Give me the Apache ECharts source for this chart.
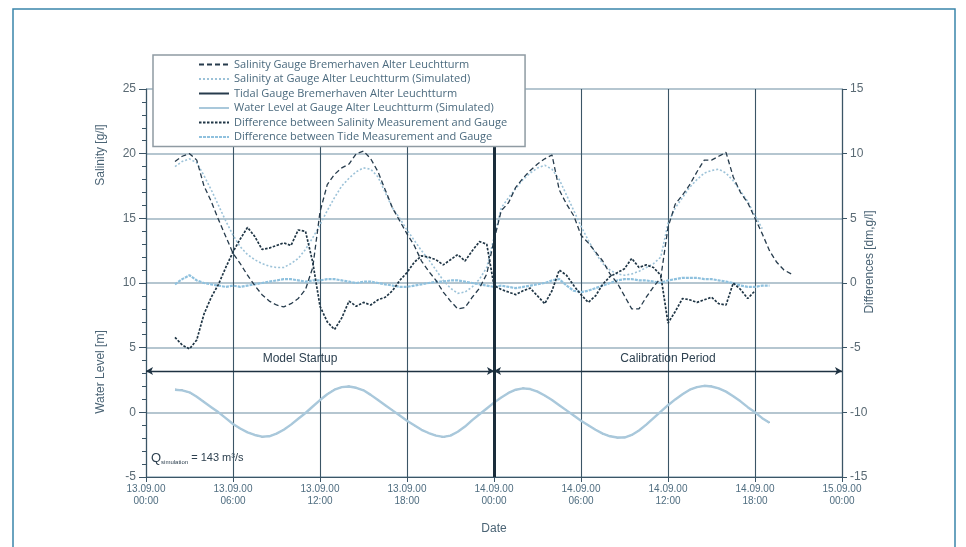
<!DOCTYPE html>
<html>
<head>
<meta charset="utf-8">
<script src="https://cdn.jsdelivr.net/npm/echarts@6/dist/echarts.min.js"></script>
<style>
  html, body { margin: 0; padding: 0; background: #ffffff; }
  #chart { width: 966px; height: 547px; }
</style>
</head>
<body>
<div id="chart"></div>
<script>
// Time base: hours after 13.09.00 00:00
const hours = [
  2, 2.5, 3, 3.5, 4, 4.5, 5, 5.5, 6, 6.5,
  7, 7.5, 8, 8.5, 9, 9.5, 10, 10.5, 11, 11.5,
  12, 12.5, 13, 13.5, 14, 14.5, 15, 15.5, 16, 16.5,
  17, 17.5, 18, 18.5, 19, 19.5, 20, 20.5, 21, 21.5,
  22, 22.5, 23, 23.5, 24, 24.5, 25, 25.5, 26, 26.5,
  27, 27.5, 28, 28.5, 29, 29.5, 30, 30.5, 31, 31.5,
  32, 32.5, 33, 33.5, 34, 34.5, 35, 35.5, 36, 36.5,
  37, 37.5, 38, 38.5, 39, 39.5, 40, 40.5, 41, 41.5,
  42, 42.5, 43, 43.5, 44, 44.5
];

// Salinity [g/l], measured at the Bremerhaven Alter Leuchtturm gauge
const salinityMeasured = [
  19.4, 19.8, 20.0, 19.5, 17.5, 16.3, 14.9, 13.6, 12.3, 11.5,
  10.6, 9.8, 9.1, 8.6, 8.3, 8.15, 8.4, 8.8, 9.5, 11.2,
  15.5, 17.6, 18.4, 18.9, 19.2, 20.0, 20.2, 19.6, 18.6, 17.2,
  15.8, 14.8, 13.8, 12.9, 11.7, 10.9, 10.2, 9.3, 8.6, 8.0,
  8.1, 8.9, 9.6, 10.7, 13.3, 15.6, 16.2, 17.4, 18.1, 18.7,
  19.2, 19.6, 19.9, 17.2, 16.1, 15.2, 13.7, 13.1, 12.4, 11.7,
  10.7, 10.0, 9.0, 8.0, 8.0, 8.9, 9.7, 10.4, 14.3, 16.1,
  16.8, 17.6, 18.6, 19.5, 19.5, 19.8, 20.1, 18.2, 17.0, 16.2,
  15.0, 13.8, 12.5, 11.6, 11.0, 10.7
];

// Salinity [g/l], simulated at the gauge
const salinitySimulated = [
  19.0, 19.4, 19.6, 19.3, 18.3, 17.2, 16.0, 14.8, 13.7, 12.8,
  12.2, 11.8, 11.5, 11.3, 11.2, 11.2, 11.5, 11.9, 12.6, 13.5,
  14.5, 15.6, 16.6, 17.5, 18.1, 18.6, 18.9, 18.8, 18.2, 17.0,
  15.8, 15.0, 14.1, 13.3, 12.5, 11.8, 11.0, 10.2, 9.6, 9.2,
  9.3, 9.7, 10.3, 11.2, 13.5, 15.8, 16.6, 17.3, 18.0, 18.5,
  18.9, 19.1, 18.8, 18.0, 16.8, 15.6, 14.4, 13.3, 12.3, 11.5,
  11.0, 10.7, 10.6, 10.7, 10.9, 11.2, 11.5, 12.0, 14.6, 15.8,
  16.6, 17.4, 18.0, 18.5, 18.7, 18.8, 18.5, 17.9, 17.1, 16.3,
  15.2, 14.2, null, null, null, null
];

// Water level [m], measured at the tide gauge
const tideMeasured = [
  1.78, 1.72, 1.52, 1.22, 0.82, 0.38, 0.02, -0.44, -0.92, -1.27,
  -1.53, -1.76, -1.90, -1.84, -1.66, -1.33, -0.97, -0.48, -0.07, 0.47,
  0.93, 1.42, 1.77, 1.94, 2.02, 1.88, 1.71, 1.33, 0.97, 0.53,
  0.17, -0.27, -0.63, -1.02, -1.33, -1.62, -1.79, -1.92, -1.78, -1.52,
  -1.08, -0.62, -0.13, 0.28, 0.77, 1.13, 1.52, 1.73, 1.87, 1.78,
  1.62, 1.28, 0.97, 0.53, 0.17, -0.27, -0.63, -1.02, -1.33, -1.67,
  -1.83, -1.97, -1.93, -1.77, -1.38, -0.97, -0.43, 0.03, 0.57, 0.98,
  1.42, 1.73, 1.97, 2.03, 2.02, 1.83, 1.62, 1.23, 0.87, 0.38,
  0.02, -0.47, -0.78, null, null, null
];

// Water level [m], simulated at the gauge
const tideSimulated = [
  1.75, 1.70, 1.55, 1.20, 0.80, 0.40, 0.00, -0.45, -0.90, -1.25,
  -1.55, -1.75, -1.88, -1.85, -1.65, -1.35, -0.95, -0.50, -0.05, 0.45,
  0.95, 1.40, 1.75, 1.95, 2.00, 1.90, 1.70, 1.35, 0.95, 0.55,
  0.15, -0.25, -0.65, -1.00, -1.35, -1.60, -1.80, -1.90, -1.80, -1.50,
  -1.10, -0.60, -0.15, 0.30, 0.75, 1.15, 1.50, 1.75, 1.85, 1.80,
  1.60, 1.30, 0.95, 0.55, 0.15, -0.25, -0.65, -1.00, -1.35, -1.65,
  -1.85, -1.95, -1.95, -1.75, -1.40, -0.95, -0.45, 0.05, 0.55, 1.00,
  1.40, 1.75, 1.95, 2.05, 2.00, 1.85, 1.60, 1.25, 0.85, 0.40,
  0.00, -0.45, -0.80, null, null, null
];

// Differences [g/l] between salinity measurement and gauge (right axis)
const salinityDifference = [
  -4.2, -4.8, -5.1, -4.4, -2.4, -1.1, -0.1, 1.2, 2.4, 3.4,
  4.3, 3.6, 2.6, 2.7, 2.9, 3.1, 2.9, 4.1, 4.0, 1.6,
  -1.8, -3.0, -3.6, -2.7, -1.4, -1.8, -1.5, -1.7, -1.3, -1.1,
  -0.6, 0.2, 0.8, 1.6, 2.1, 2.0, 1.8, 1.4, 1.8, 2.2,
  1.7, 2.5, 3.2, 3.0, -0.2, -0.5, -0.7, -0.9, -0.6, -0.4,
  -1.0, -1.6, -0.6, 1.0, 0.6, -0.2, -0.9, -1.5, -1.0, -0.1,
  0.5, 0.8, 1.1, 1.9, 1.2, 1.4, 1.2, 0.6, -3.1, -2.2,
  -1.2, -1.3, -1.5, -1.3, -1.1, -1.6, -1.7, 0.0, -0.5, -1.2,
  -0.6, null, null, null, null, null
];

// Differences [dm] between tide measurement and gauge (right axis)
const tideDifference = [
  -0.1, 0.3, 0.6, 0.2, 0.0, -0.1, -0.2, -0.3, -0.2, -0.3,
  -0.2, -0.1, 0.0, 0.1, 0.2, 0.3, 0.3, 0.2, 0.1, 0.2,
  0.2, 0.3, 0.3, 0.2, 0.1, 0.0, 0.1, 0.1, 0.0, -0.1,
  -0.2, -0.3, -0.3, -0.2, -0.1, 0.0, 0.1, 0.1, 0.2, 0.2,
  0.1, 0.0, -0.1, -0.2, -0.3, -0.2, -0.3, -0.4, -0.3, -0.2,
  -0.1, 0.0, 0.2, 0.3, -0.2, -0.6, -0.7, -0.6, -0.4, -0.2,
  0.0, 0.2, 0.3, 0.3, 0.2, 0.2, 0.1, 0.0, 0.2, 0.3,
  0.4, 0.4, 0.4, 0.3, 0.3, 0.2, 0.1, 0.0, -0.2, -0.3,
  -0.3, -0.2, -0.2, null, null, null
];

// Date tick labels, one every 6 hours
const dateTicks = [
  '13.09.00\n00:00', '13.09.00\n06:00', '13.09.00\n12:00', '13.09.00\n18:00',
  '14.09.00\n00:00', '14.09.00\n06:00', '14.09.00\n12:00', '14.09.00\n18:00',
  '15.09.00\n00:00'
];

// Period arrows (hours) and their level on the left axis
const periods = [
  { name: 'Model Startup', from: 0, to: 24 },
  { name: 'Calibration Period', from: 24, to: 48 }
];
const periodLevel = 3.2;
const periodSplitHour = 24;

const seriesNames = [
  'Salinity Gauge Bremerhaven Alter Leuchtturm',
  'Salinity at Gauge Alter Leuchtturm (Simulated)',
  'Tidal Gauge Bremerhaven Alter Leuchtturm',
  'Water Level at Gauge Alter Leuchtturm (Simulated)',
  'Difference between Salinity Measurement and Gauge',
  'Difference between Tide Measurement and Gauge'
];

const FONT = 'Liberation Sans, Arial, sans-serif';
const LEGEND_FONT = 'Open Sans, Liberation Sans, sans-serif';
const DARK = '#263b4c';
const LIGHT = '#9cc2d8';
const AXIS = '#3b5566';
const TITLE = '#4b6475';

function pairs(values) {
  const out = [];
  hours.forEach((h, i) => { if (values[i] !== null) out.push([h, values[i]]); });
  return out;
}

const chart = echarts.init(document.getElementById('chart'), null, { renderer: 'canvas' });

const option = {
  backgroundColor: '#ffffff',
  animation: false,
  grid: { left: 146, right: 124, top: 89, bottom: 70, containLabel: false },
  legend: {
    orient: 'vertical',
    left: 153,
    top: 55,
    z: 20,
    data: seriesNames,
    backgroundColor: '#ffffff',
    borderColor: '#8f9ba3',
    borderWidth: 1.5,
    padding: [4, 18, 4, 45],
    itemWidth: 30,
    itemHeight: 10,
    itemGap: 3.5,
    selectedMode: false,
    itemStyle: { opacity: 0 },
    textStyle: { fontFamily: LEGEND_FONT, fontSize: 11, color: '#4b6a7e' }
  },
  xAxis: {
    type: 'value',
    min: 0,
    max: 48,
    interval: 6,
    name: 'Date',
    nameLocation: 'middle',
    nameGap: 46,
    nameTextStyle: { fontFamily: FONT, fontSize: 12, color: TITLE },
    axisLine: { show: true, onZero: false, lineStyle: { color: AXIS, width: 1.2 } },
    axisTick: { show: true, length: 5, lineStyle: { color: AXIS } },
    axisLabel: {
      fontFamily: FONT, fontSize: 10, lineHeight: 12, color: '#4f6d80', margin: 6,
      formatter: v => dateTicks[Math.round(v / 6)] || ''
    },
    splitLine: { show: true, lineStyle: { color: AXIS, width: 1.1 } }
  },
  yAxis: [
    {
      type: 'value',
      min: -5,
      max: 25,
      interval: 5,
      position: 'left',
      axisLine: { show: true, onZero: false, lineStyle: { color: AXIS, width: 1.2 } },
      axisTick: { show: true, length: 7, lineStyle: { color: AXIS } },
      minorTick: { show: true, splitNumber: 5, length: 4, lineStyle: { color: AXIS } },
      axisLabel: { fontFamily: FONT, fontSize: 12, color: '#5a6a74', margin: 10 },
      splitLine: { show: true, lineStyle: { color: '#9db3c0', width: 1.6 } }
    },
    {
      type: 'value',
      min: -15,
      max: 15,
      interval: 5,
      position: 'right',
      axisLine: { show: true, onZero: false, lineStyle: { color: AXIS, width: 1.2 } },
      axisTick: { show: true, length: 5, lineStyle: { color: AXIS } },
      axisLabel: { fontFamily: FONT, fontSize: 12, color: '#5a6a74', margin: 8 },
      splitLine: { show: false }
    }
  ],
  graphic: [
    {
      type: 'rect', silent: true, z: -1,
      shape: { x: 13, y: 9, width: 942, height: 580 },
      style: { fill: 'none', stroke: '#3a85ab', lineWidth: 1.5 }
    },
    {
      type: 'text', x: 101, y: 155, rotation: Math.PI / 2,
      style: { text: 'Salinity [g/l]', font: '12px ' + FONT, fill: TITLE, align: 'center', verticalAlign: 'middle' }
    },
    {
      type: 'text', x: 101, y: 372, rotation: Math.PI / 2,
      style: { text: 'Water Level [m]', font: '12px ' + FONT, fill: TITLE, align: 'center', verticalAlign: 'middle' }
    },
    {
      type: 'text', x: 870, y: 262, rotation: Math.PI / 2,
      style: { text: 'Differences [dm,g/l]', font: '12px ' + FONT, fill: TITLE, align: 'center', verticalAlign: 'middle' }
    },
    {
      type: 'text', left: 151, top: 452,
      style: {
        text: '{q|Q}{s|simulation}{t| = 143 m³/s}',
        rich: {
          q: { fontFamily: FONT, fontSize: 13, fill: '#2e4150', verticalAlign: 'bottom' },
          s: { fontFamily: FONT, fontSize: 6, fill: '#2e4150', padding: [8, 0, 0, 0] },
          t: { fontFamily: FONT, fontSize: 11, fill: '#2e4150' }
        }
      }
    }
  ],
  series: [
    {
      name: seriesNames[0], type: 'line', yAxisIndex: 0, z: 4,
      data: pairs(salinityMeasured), symbol: 'none', symbolSize: 0, showSymbol: false,
      lineStyle: { color: DARK, width: 1.3, type: [5, 3] },
      itemStyle: { color: DARK }
    },
    {
      name: seriesNames[1], type: 'line', yAxisIndex: 0, z: 3,
      data: pairs(salinitySimulated), symbol: 'none', symbolSize: 0, showSymbol: false,
      lineStyle: { color: LIGHT, width: 1.6, type: [2, 2] },
      itemStyle: { color: LIGHT }
    },
    {
      name: seriesNames[2], type: 'line', yAxisIndex: 0, z: 2,
      data: pairs(tideMeasured), symbol: 'none', symbolSize: 0, showSymbol: false,
      lineStyle: { color: DARK, width: 1 },
      itemStyle: { color: DARK },
      markLine: {
        silent: true,
        symbol: ['arrow', 'arrow'],
        symbolSize: [6, 7],
        lineStyle: { color: '#1e3242', width: 1.4, type: 'solid' },
        label: {
          show: true, position: 'insideMiddleTop', distance: 6,
          fontFamily: FONT, fontSize: 12, color: '#2e4150',
          formatter: p => p.name
        },
        data: periods.map((p, i) => [
          { name: p.name, coord: [p.from, periodLevel], label: { offset: [i === 0 ? -20 : 0, 0] } },
          { coord: [p.to, periodLevel] }
        ])
      }
    },
    {
      name: seriesNames[3], type: 'line', yAxisIndex: 0, z: 3,
      data: pairs(tideSimulated), symbol: 'none', symbolSize: 0, showSymbol: false,
      lineStyle: { color: '#a9c8db', width: 2.4 },
      itemStyle: { color: '#a9c8db' }
    },
    {
      name: seriesNames[4], type: 'line', yAxisIndex: 1, z: 5,
      data: pairs(salinityDifference), symbol: 'none', symbolSize: 0, showSymbol: false,
      lineStyle: { color: '#1f3545', width: 1.7, type: [2.5, 1.5] },
      itemStyle: { color: '#1f3545' },
      markLine: {
        silent: true,
        symbol: 'none',
        label: { show: false },
        lineStyle: { color: '#1a2d3b', width: 3, type: 'solid' },
        data: [{ xAxis: periodSplitHour }]
      }
    },
    {
      name: seriesNames[5], type: 'line', yAxisIndex: 1, z: 3,
      data: pairs(tideDifference), symbol: 'none', symbolSize: 0, showSymbol: false,
      lineStyle: { color: '#8fc1de', width: 2.2, type: [3, 1] },
      itemStyle: { color: '#8fc1de' }
    }
  ]
};

chart.setOption(option);
</script>
</body>
</html>
